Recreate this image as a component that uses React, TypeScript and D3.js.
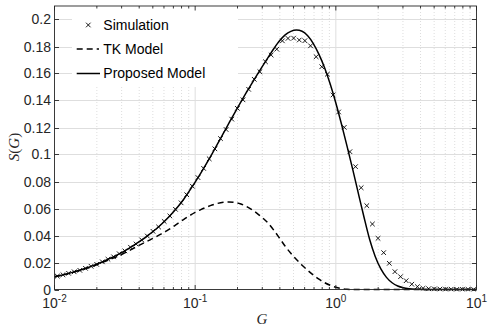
import React from 'react';
import * as d3 from 'd3';

// x positions of the model curves, in dB (G = 10^(dB/10))
const modelDb = [
  -20, -19.6, -19.2, -18.8, -18.4, -18, -17.6, -17.2, -16.8, -16.4,
  -16, -15.6, -15.2, -14.8, -14.4, -14, -13.6, -13.2, -12.8, -12.4,
  -12, -11.6, -11.2, -10.8, -10.4, -10, -9.6, -9.2, -8.8, -8.4,
  -8, -7.6, -7.2, -6.8, -6.4, -6, -5.6, -5.2, -4.8, -4.4,
  -4, -3.6, -3.2, -2.8, -2.4, -2, -1.6, -1.2, -0.8, -0.4,
  0, 0.4, 0.8, 1.2, 1.6, 2, 2.4, 2.8, 3.2, 3.6,
  4, 4.4, 4.8, 5.2, 5.6, 6, 6.4, 6.8, 7.2, 7.6,
  8, 8.4, 8.8, 9.2, 9.6, 10,
];

const proposedModel = [
  0.0095, 0.0104, 0.0114, 0.0125, 0.0137, 0.0150, 0.0164, 0.0179, 0.0196, 0.0214,
  0.0233, 0.0253, 0.0275, 0.0299, 0.0325, 0.0352, 0.0381, 0.0413, 0.0446, 0.0483,
  0.0524, 0.0569, 0.0617, 0.0670, 0.0733, 0.0796, 0.0862, 0.0932, 0.1005, 0.1080,
  0.1156, 0.1232, 0.1307, 0.1380, 0.1452, 0.1522, 0.1590, 0.1657, 0.1722, 0.1785,
  0.1842, 0.1886, 0.1912, 0.1922, 0.1913, 0.1880, 0.1822, 0.1742, 0.1643, 0.1522,
  0.1382, 0.1226, 0.1060, 0.0890, 0.0712, 0.0537, 0.0372, 0.0245, 0.0152, 0.0090,
  0.0050, 0.0026, 0.0013, 0.0006, 0.0002, 0.0001, 0, 0, 0, 0,
  0, 0, 0, 0, 0, 0,
];

const tkModel = [
  0.0095, 0.0104, 0.0113, 0.0124, 0.0136, 0.0148, 0.0161, 0.0175, 0.0191, 0.0208,
  0.0225, 0.0242, 0.0261, 0.0282, 0.0304, 0.0327, 0.0348, 0.0368, 0.0390, 0.0412,
  0.0436, 0.0463, 0.0492, 0.0520, 0.0547, 0.0571, 0.0592, 0.0610, 0.0626, 0.0638,
  0.0646, 0.0649, 0.0645, 0.0635, 0.0617, 0.0593, 0.0564, 0.0530, 0.0490, 0.0438,
  0.0380, 0.0320, 0.0268, 0.0222, 0.0180, 0.0142, 0.0107, 0.0076, 0.0051, 0.0031,
  0.0016, 0.0007, 0.0002, 0, 0, 0, 0, 0, 0, 0,
  0, 0, 0, 0, 0, 0, 0, 0, 0, 0,
  0, 0, 0, 0, 0, 0,
];

// simulation points, in dB
const simDb = [
  -19.8, -19.4, -19, -18.6, -18.2, -17.8, -17.4, -17, -16.6, -16.2,
  -15.8, -15.4, -15, -14.6, -14.2, -13.8, -13.4, -13, -12.6, -12.2,
  -11.8, -11.4, -11, -10.6, -10.2, -9.8, -9.4, -9, -8.6, -8.2,
  -7.8, -7.4, -7, -6.6, -6.2, -5.8, -5.4, -5, -4.6, -4.2,
  -3.8, -3.4, -3, -2.6, -2.2, -1.8, -1.4, -1, -0.6, -0.2,
  0.2, 0.6, 1, 1.4, 1.8, 2.2, 2.6, 3, 3.4, 3.8,
  4.2, 4.6, 5, 5.4, 5.8, 6.2, 6.6, 7, 7.4, 7.8,
  8.2, 8.6, 9, 9.4, 9.8,
];

const simulation = [
  0.0099, 0.0109, 0.0120, 0.0131, 0.0142, 0.0157, 0.0172, 0.0186, 0.0205, 0.0224,
  0.0242, 0.0265, 0.0286, 0.0313, 0.0337, 0.0367, 0.0396, 0.0431, 0.0463, 0.0504,
  0.0545, 0.0594, 0.0642, 0.0702, 0.0765, 0.0829, 0.0897, 0.0968, 0.1042, 0.1118,
  0.1185, 0.1262, 0.1342, 0.1405, 0.1483, 0.1557, 0.1613, 0.1687, 0.1737, 0.1780,
  0.1842, 0.1860, 0.1862, 0.1848, 0.1843, 0.1805, 0.1724, 0.1650, 0.1595, 0.1441,
  0.1315, 0.1201, 0.1021, 0.0910, 0.0754, 0.0621, 0.0485, 0.0379, 0.0273, 0.0194,
  0.0132, 0.0095, 0.0065, 0.0039, 0.0021, 0.0009, 0.0006, 0.0004, 0.0003, 0.0002,
  0.0002, 0.0001, 0.0001, 0.0001, 0.0000,
];

const yTicks = [0, 0.02, 0.04, 0.06, 0.08, 0.1, 0.12, 0.14, 0.16, 0.18, 0.2];
const yTickLabels = ['0', '0.02', '0.04', '0.06', '0.08', '0.1', '0.12', '0.14', '0.16', '0.18', '0.2'];
const xMajor = [0.01, 0.1, 1, 10];
const xMajorExp = ['-2', '-1', '0', '1'];
const legendLabels = ['Simulation', 'TK Model', 'Proposed Model'];

const W = 488;
const H = 326;
const L = 54.5, R = 476.5, T = 6, B = 289.5;
const AX = '#262626';
const FONT = '"Liberation Sans", Arial, Helvetica, sans-serif';
const SERIF = '"Liberation Serif", "Times New Roman", serif';

const dbToG = (d: number) => Math.pow(10, d / 10);

export default function App() {
  const x = d3.scaleLog().domain([0.01, 10]).range([L, R]);
  const y = d3.scaleLinear().domain([0, 0.21]).range([B, T]);

  const xMinor: number[] = [];
  for (let e = -2; e < 1; e++) {
    for (let m = 2; m <= 9; m++) xMinor.push(m * Math.pow(10, e));
  }

  const line = d3
    .line<[number, number]>()
    .x((d) => x(d[0]))
    .y((d) => y(d[1]))
    .curve(d3.curveMonotoneX);

  const propPts = modelDb.map((d, i) => [dbToG(d), proposedModel[i]] as [number, number]);
  const tkPts = modelDb.map((d, i) => [dbToG(d), tkModel[i]] as [number, number]);
  const simPts = simDb.map((d, i) => [dbToG(d), simulation[i]] as [number, number]);

  const mk = 2.3;
  const legY = [25, 49, 73.5];

  return (
    <svg
      width={W}
      height={H}
      style={{ position: 'absolute', left: 0, top: 0, background: '#fff' }}
      xmlns="http://www.w3.org/2000/svg"
    >
      <defs>
        <clipPath id="plotClip">
          <rect x={L} y={T - 2} width={R - L} height={B - T + 4} />
        </clipPath>
      </defs>
      <rect x={0} y={0} width={W} height={H} fill="#fff" />

      {/* minor x grid */}
      {xMinor.map((v, i) => (
        <line
          key={'mg' + i}
          x1={x(v)}
          x2={x(v)}
          y1={T}
          y2={B}
          stroke="#cfcfcf"
          strokeWidth={0.7}
          strokeDasharray="1,2"
        />
      ))}
      {/* major x grid */}
      {xMajor.slice(1, 3).map((v, i) => (
        <line key={'xg' + i} x1={x(v)} x2={x(v)} y1={T} y2={B} stroke="#dedede" strokeWidth={1} />
      ))}
      {/* y grid */}
      {yTicks.slice(1).map((v, i) => (
        <line key={'yg' + i} x1={L} x2={R} y1={Math.round(y(v)) + 0.5} y2={Math.round(y(v)) + 0.5} stroke="#dedede" strokeWidth={1} />
      ))}

      {/* legend background */}
      <rect x={72} y={T + 1} width={166} height={80} fill="#fff" />

      {/* data */}
      <g clipPath="url(#plotClip)">
        <path d={line(tkPts) || ''} fill="none" stroke="#000" strokeWidth={1.5} strokeDasharray="6,4" />
        <path d={line(propPts) || ''} fill="none" stroke="#000" strokeWidth={1.5} />
        {simPts.map((p, i) => {
          const cx = x(p[0]);
          const cy = y(p[1]);
          return (
            <path
              key={'s' + i}
              d={`M${cx - mk},${cy - mk}L${cx + mk},${cy + mk}M${cx - mk},${cy + mk}L${cx + mk},${cy - mk}`}
              stroke="#000"
              strokeWidth={0.9}
              fill="none"
            />
          );
        })}
      </g>

      {/* axes box */}
      <rect x={L} y={T} width={R - L} height={B - T} fill="none" stroke={AX} strokeWidth={0.9} />

      {/* y ticks */}
      {yTicks.map((v, i) => {
        const yy = Math.round(y(v)) + 0.5;
        return (
          <g key={'yt' + i}>
            <line x1={L} x2={L + 4.5} y1={yy} y2={yy} stroke={AX} strokeWidth={0.9} />
            <line x1={R} x2={R - 4.5} y1={yy} y2={yy} stroke={AX} strokeWidth={0.9} />
            <text x={51} y={yy} dy="0.35em" textAnchor="end" fontFamily={FONT} fontSize={14} fill={AX}>
              {yTickLabels[i]}
            </text>
          </g>
        );
      })}

      {/* x ticks */}
      {xMinor.map((v, i) => (
        <g key={'xm' + i}>
          <line x1={x(v)} x2={x(v)} y1={B} y2={B - 2.5} stroke={AX} strokeWidth={0.9} />
          <line x1={x(v)} x2={x(v)} y1={T} y2={T + 2.5} stroke={AX} strokeWidth={0.9} />
        </g>
      ))}
      {xMajor.map((v, i) => (
        <g key={'xM' + i}>
          <line x1={x(v)} x2={x(v)} y1={B} y2={B - 4.5} stroke={AX} strokeWidth={0.9} />
          <line x1={x(v)} x2={x(v)} y1={T} y2={T + 4.5} stroke={AX} strokeWidth={0.9} />
          <text x={x(v)} y={308} textAnchor="middle" fontFamily={FONT} fontSize={14} fill={AX}>
            10
            <tspan dy={-6} fontSize={10}>
              {xMajorExp[i]}
            </tspan>
          </text>
        </g>
      ))}

      {/* axis labels */}
      <text x={262} y={323.5} textAnchor="middle" fontFamily={SERIF} fontStyle="italic" fontSize={15} fill={AX}>
        G
      </text>
      <text
        transform="translate(19,147) rotate(-90)"
        textAnchor="middle"
        fontFamily={SERIF}
        fontSize={15}
        fill={AX}
      >
        <tspan fontStyle="italic">S</tspan>
        <tspan>(</tspan>
        <tspan fontStyle="italic">G</tspan>
        <tspan>)</tspan>
      </text>

      {/* legend */}
      <g>
        <path
          d={`M${88.3 - mk},${legY[0] - mk}L${88.3 + mk},${legY[0] + mk}M${88.3 - mk},${legY[0] + mk}L${88.3 + mk},${legY[0] - mk}`}
          stroke="#000"
          strokeWidth={0.9}
        />
        <line x1={76.7} x2={99} y1={legY[1]} y2={legY[1]} stroke="#000" strokeWidth={1.5} strokeDasharray="6,4" />
        <line x1={76.7} x2={100} y1={legY[2]} y2={legY[2]} stroke="#000" strokeWidth={1.5} />
        {legendLabels.map((t, i) => (
          <text key={'lg' + i} x={103.3} y={legY[i]} dy="0.35em" fontFamily={FONT} fontSize={14} fill="#000">
            {t}
          </text>
        ))}
      </g>
    </svg>
  );
}
